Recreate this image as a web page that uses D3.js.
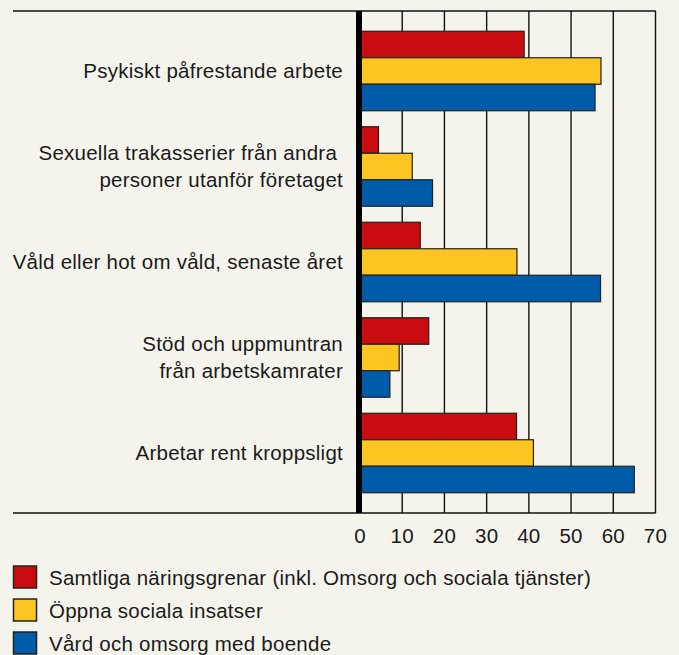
<!DOCTYPE html>
<html>
<head>
<meta charset="utf-8">
<script src="https://cdn.jsdelivr.net/npm/d3@7"></script>
<style>
  html, body { margin: 0; padding: 0; background: #f5f4ec; }
  svg { display: block; font-family: "Liberation Sans", Arial, sans-serif; }
</style>
</head>
<body>
<script>
// category labels (each entry = lines of the label)
var categories = [
    ["Psykiskt påfrestande arbete"],
    ["Sexuella trakasserier från andra ", "personer utanför företaget"],
    ["Våld eller hot om våld, senaste året"],
    ["Stöd och uppmuntran", "från arbetskamrater"],
    ["Arbetar rent kroppsligt"]
];

// series names
var seriesNames = [
    "Samtliga näringsgrenar (inkl. Omsorg och sociala tjänster)",
    "Öppna sociala insatser",
    "Vård och omsorg med boende"
];

// values per series, in category order
var samtliga = [39, 4.5, 14.4, 16.4, 37.2];
var oppna    = [57.2, 12.5, 37.3, 9.4, 41.2];
var vard     = [55.8, 17.3, 57.1, 7.2, 65.1];

var tickValues = [0, 10, 20, 30, 40, 50, 60, 70];

var colors = ["#c90c10", "#fdc521", "#005ba8"];

window.onload = function(){
    var w = 679, h = 655;
    var top = 11, bottom = 513;
    var fontSize = "20.5px", spacing = "0.25px";

    var svg = d3.select("body").append("svg")
        .attr("width", w)
        .attr("height", h);

    var x = d3.scaleLinear()
        .domain([0, 70])
        .range([359.5, 655]);

    var y = d3.scaleBand()
        .domain(d3.range(categories.length))
        .range([top, bottom])
        .paddingInner(0.1675)
        .paddingOuter(0.212);

    var ySub = d3.scaleBand()
        .domain(d3.range(3))
        .range([0, y.bandwidth()]);

    // vertical gridlines
    var grid = svg.append("g")
        .attr("transform", "translate(0," + bottom + ")")
        .call(d3.axisBottom(x).tickValues(tickValues.slice(1)).tickSize(-(bottom - top)).tickFormat(""));
    grid.select(".domain").remove();
    grid.selectAll("line").attr("stroke", "#111").attr("stroke-width", 1.4);

    // top and bottom rules
    svg.append("line")
        .attr("x1", 13).attr("x2", x(70) + 0.7)
        .attr("y1", top).attr("y2", top)
        .attr("stroke", "#111").attr("stroke-width", 1.4);
    svg.append("line")
        .attr("x1", 13).attr("x2", x(70) + 0.7)
        .attr("y1", bottom).attr("y2", bottom)
        .attr("stroke", "#111").attr("stroke-width", 1.4);

    // bars
    var allSeries = [samtliga, oppna, vard];
    var groups = svg.selectAll(".grp")
        .data(categories)
        .enter().append("g")
        .attr("class", "grp")
        .attr("transform", function(d, i){ return "translate(0," + y(i) + ")"; });

    groups.selectAll("rect")
        .data(function(d, i){
            return allSeries.map(function(s, j){ return { v: s[i], j: j }; });
        })
        .enter().append("rect")
        .attr("x", x(0) + 1)
        .attr("y", function(d){ return ySub(d.j); })
        .attr("width", function(d){ return x(d.v) - x(0) - 1; })
        .attr("height", ySub.bandwidth())
        .attr("fill", function(d){ return colors[d.j]; })
        .attr("stroke", "#222")
        .attr("stroke-width", 1.2);

    // thick zero line
    svg.append("line")
        .attr("x1", x(0) - 0.5).attr("x2", x(0) - 0.5)
        .attr("y1", top).attr("y2", bottom)
        .attr("stroke", "#000").attr("stroke-width", 6);

    // category labels
    var lh = 27;
    groups.append("text")
        .attr("text-anchor", "end")
        .attr("fill", "#1a1a1a")
        .style("font-size", fontSize)
        .style("letter-spacing", spacing)
        .each(function(d){
            var t = d3.select(this);
            var mid = y.bandwidth() / 2;
            var first = mid + 7 - (d.length - 1) * lh / 2;
            d.forEach(function(line, k){
                t.append("tspan")
                    .attr("x", 343)
                    .attr("y", first + k * lh)
                    .attr("xml:space", "preserve")
                    .text(line);
            });
        });

    // x axis tick labels
    var ax = svg.append("g")
        .attr("transform", "translate(0," + bottom + ")")
        .call(d3.axisBottom(x).tickValues(tickValues).tickSize(0).tickPadding(0));
    ax.select(".domain").remove();
    ax.selectAll("text")
        .attr("dy", null)
        .attr("y", 30)
        .attr("fill", "#1a1a1a")
        .style("font-size", fontSize)
        .style("letter-spacing", spacing)
        .style("font-family", "'Liberation Sans', Arial, sans-serif");

    // legend
    var legendY = [566, 599, 632];
    var legend = svg.selectAll(".leg")
        .data(seriesNames)
        .enter().append("g")
        .attr("class", "leg")
        .attr("transform", function(d, i){ return "translate(13," + legendY[i] + ")"; });

    legend.append("rect")
        .attr("x", 0.5).attr("y", 0)
        .attr("width", 23).attr("height", 22)
        .attr("fill", function(d, i){ return colors[i]; })
        .attr("stroke", "#222")
        .attr("stroke-width", 1.5);

    legend.append("text")
        .attr("x", 36)
        .attr("y", 18.5)
        .attr("fill", "#1a1a1a")
        .style("font-size", fontSize)
        .style("letter-spacing", spacing)
        .text(function(d){ return d; });
};
</script>
</body>
</html>
